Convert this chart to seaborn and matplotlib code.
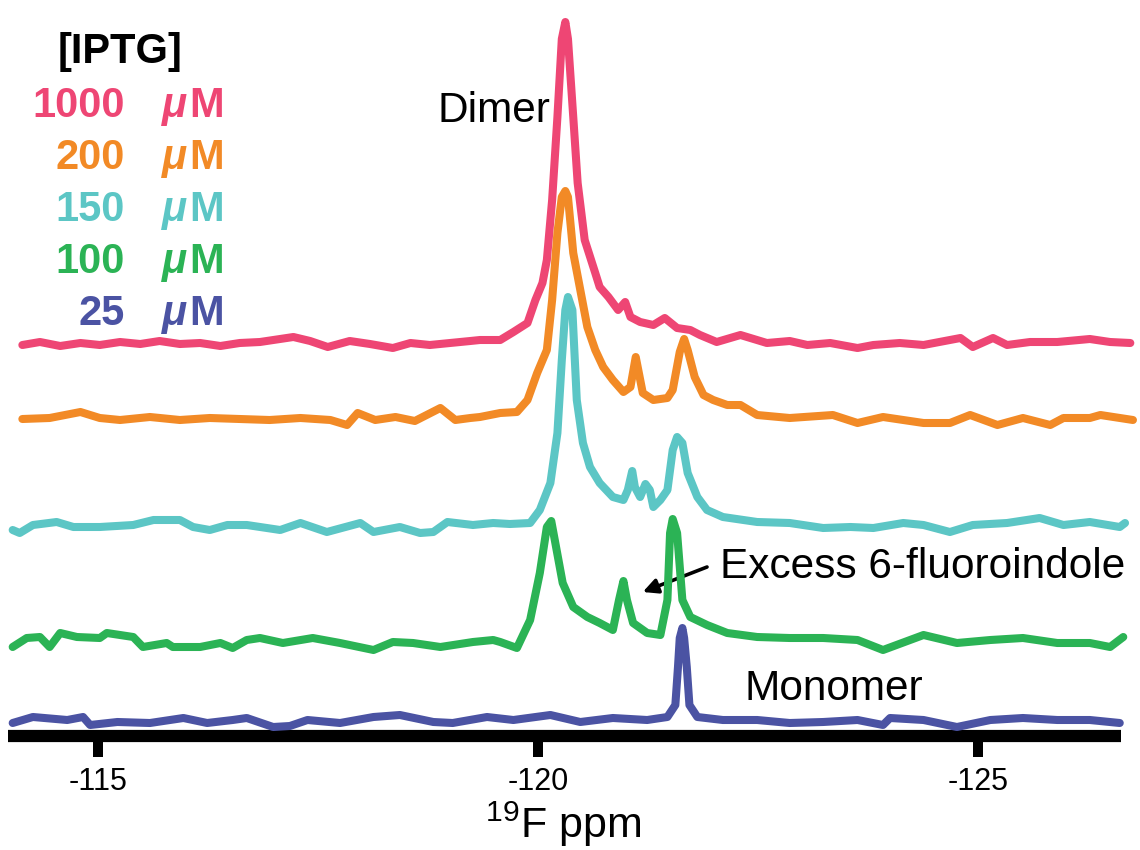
import numpy as np
import pandas as pd
import matplotlib
matplotlib.use("Agg")
import matplotlib.pyplot as plt
import seaborn as sns

# ---------------- data ----------------
conc_labels = ["1000", "200", "150", "100", "25"]
colors = ["#EE4674", "#F28A26", "#5CC6C5", "#2BB355", "#4B53A3"]

pink_ppm = [-114.14, -114.34, -114.57, -114.80, -115.02, -115.25, -115.48, -115.70, -115.93, -116.16,
            -116.39, -116.61, -116.84, -117.22, -117.41, -117.61, -117.86, -118.09, -118.35, -118.55,
            -118.77, -119.00, -119.23, -119.34, -119.57, -119.72, -119.88, -119.97, -120.05, -120.10,
            -120.16, -120.22, -120.27, -120.31, -120.34, -120.40, -120.45, -120.53, -120.65, -120.70,
            -120.80, -120.91, -120.99, -121.05, -121.16, -121.31, -121.44, -121.58, -121.73, -121.84,
            -122.03, -122.30, -122.60, -122.86, -123.06, -123.32, -123.63, -123.81, -124.11, -124.38,
            -124.80, -124.94, -125.17, -125.33, -125.59, -125.90, -126.27, -126.50, -126.73]
pink_int = [-1, 2, -2, 1, -1, 2, 0, 3, 0, 1,
            -2, 1, 2, 7, 3, -3, 3, 0, -4, 1,
            -1, 1, 3, 4, 4, 12, 21, 44, 61, 84,
            144, 227, 305, 322, 305, 227, 161, 104, 71, 57,
            47, 34, 42, 27, 22, 19, 26, 16, 14, 9,
            2, 9, 1, 3, -1, 1, -4, -1, 1, -1,
            6, -3, 6, -1, 2, 2, 5, 2, 1]

orange_ppm = [-114.14, -114.45, -114.80, -115.02, -115.25, -115.59, -115.93, -116.27, -116.61, -116.95,
              -117.30, -117.64, -117.83, -117.95, -118.15, -118.38, -118.60, -118.89, -119.06, -119.23,
              -119.34, -119.57, -119.76, -119.88, -119.99, -120.10, -120.16, -120.22, -120.27, -120.31,
              -120.34, -120.40, -120.48, -120.56, -120.65, -120.74, -120.85, -120.97, -121.05, -121.11,
              -121.19, -121.31, -121.47, -121.53, -121.61, -121.66, -121.70, -121.78, -121.88, -121.99,
              -122.15, -122.30, -122.49, -122.86, -123.35, -123.63, -123.92, -124.38, -124.68, -124.91,
              -125.22, -125.51, -125.82, -125.97, -126.27, -126.39, -126.76]
orange_int = [0, 1, 7, 1, -1, 2, -1, 1, 0, -1,
              1, -1, -6, 6, -1, 2, -2, 11, -1, 1,
              2, 6, 7, 19, 46, 69, 119, 186, 222, 228,
              222, 166, 129, 92, 69, 52, 39, 27, 32, 62,
              26, 19, 21, 29, 67, 80, 69, 42, 24, 19,
              14, 14, 4, 1, 4, -4, 2, -4, -4, 4,
              -6, 1, -6, 1, 1, 4, -1]

teal_ppm = [-114.03, -114.11, -114.26, -114.53, -114.72, -115.02, -115.40, -115.63, -115.93, -116.08,
            -116.27, -116.47, -116.69, -117.07, -117.30, -117.60, -117.98, -118.13, -118.43, -118.66,
            -118.81, -118.97, -119.26, -119.49, -119.68, -119.91, -120.02, -120.14, -120.22, -120.27,
            -120.31, -120.34, -120.39, -120.44, -120.51, -120.59, -120.70, -120.85, -120.97, -121.02,
            -121.07, -121.10, -121.16, -121.22, -121.27, -121.31, -121.39, -121.47, -121.53, -121.58,
            -121.64, -121.70, -121.81, -121.92, -122.10, -122.49, -122.86, -123.24, -123.55, -123.81,
            -124.15, -124.38, -124.68, -124.94, -125.33, -125.70, -125.97, -126.27, -126.61, -126.67]
teal_int = [-4, -7, 1, 4, -1, -1, 1, 6, 6, -1,
            -4, 1, 1, -4, 3, -6, 3, -6, -1, -7,
            -6, 4, 1, 3, 2, 3, 16, 43, 93, 166,
            216, 229, 216, 126, 83, 59, 43, 29, 26, 36,
            55, 39, 29, 42, 36, 19, 26, 36, 76, 89,
            83, 53, 29, 16, 9, 4, 3, -2, -1, -2,
            3, 1, -6, 1, 3, 8, 1, 4, -1, 3]

green_ppm = [-114.03, -114.19, -114.34, -114.45, -114.57, -114.76, -115.02, -115.10, -115.40, -115.51,
             -115.78, -115.85, -116.16, -116.39, -116.53, -116.69, -116.84, -117.10, -117.44, -117.75,
             -118.13, -118.35, -118.58, -118.89, -119.26, -119.49, -119.57, -119.76, -119.91, -120.02,
             -120.10, -120.15, -120.19, -120.28, -120.40, -120.56, -120.70, -120.85, -120.92, -120.97,
             -121.01, -121.08, -121.24, -121.39, -121.47, -121.50, -121.53, -121.58, -121.64, -121.73,
             -121.92, -122.15, -122.49, -122.86, -123.24, -123.63, -123.92, -124.38, -124.76, -125.14,
             -125.51, -125.90, -126.27, -126.50, -126.65]
green_int = [-4, 5, 6, -4, 10, 6, 5, 10, 6, -4,
             0, -4, -4, 0, -5, 3, 5, 0, 5, 0,
             -7, 1, 0, -4, 1, 3, 1, -5, 23, 70,
             116, 122, 103, 60, 36, 26, 20, 13, 43, 62,
             43, 20, 10, 8, 43, 110, 124, 110, 43, 26,
             18, 10, 6, 5, 5, 3, -7, 8, 0, 3,
             5, 0, 0, -4, 6]

blue_ppm = [-114.03, -114.26, -114.65, -114.83, -114.91, -115.22, -115.59, -115.97, -116.24, -116.53,
            -116.69, -116.99, -117.18, -117.38, -117.75, -118.13, -118.43, -118.81, -119.03, -119.42,
            -119.72, -120.14, -120.48, -120.85, -121.24, -121.47, -121.56, -121.59, -121.61, -121.64,
            -121.66, -121.69, -121.72, -121.81, -122.10, -122.49, -122.86, -123.24, -123.63, -123.92,
            -124.00, -124.38, -124.76, -125.14, -125.51, -125.90, -126.27, -126.61]
blue_int = [-3, 3, 0, 3, -5, -2, -3, 2, -3, 0,
            2, -7, -6, 0, -3, 3, 5, -2, -3, 3,
            0, 5, -2, 2, 0, 3, 15, 53, 82, 92,
            82, 53, 15, 3, 0, 0, -3, -2, 0, -5,
            2, 0, -7, 0, 2, 0, 0, -3]

tick_values = [-115, -120, -125]
tick_labels = ["-115", "-120", "-125"]

# ---------------- layout ----------------
W, H = 1140, 850
offsets = [392, 317, 210, 93, 16]

sns.set_theme(style="white")
plt.rcParams["font.family"] = ["Liberation Sans", "DejaVu Sans"]
plt.rcParams["mathtext.default"] = "regular"
plt.rcParams["text.color"] = "black"
plt.rcParams["axes.labelcolor"] = "black"
plt.rcParams["xtick.color"] = "black"

fig = plt.figure(figsize=(W / 100, H / 100), dpi=100)
ax = fig.add_axes([0, 114 / H, 1, 736 / H])

traces = [(pink_ppm, pink_int), (orange_ppm, orange_int), (teal_ppm, teal_int),
          (green_ppm, green_int), (blue_ppm, blue_int)]
for i, ((xp, yi), col, off) in enumerate(zip(traces, colors, offsets)):
    df = pd.DataFrame({"ppm": xp, "intensity": np.array(yi, dtype=float) + off})
    sns.lineplot(data=df, x="ppm", y="intensity", ax=ax, color=col, lw=5.8,
                 estimator=None, sort=False, zorder=2 + i)

ax.set_xlim(-113.886, -126.84)
ax.set_ylim(0, 736)
ax.set_facecolor("none")
for s in ["top", "left", "right"]:
    ax.spines[s].set_visible(False)
ax.spines["bottom"].set_linewidth(8.8)
ax.spines["bottom"].set_color("black")
ax.spines["bottom"].set_capstyle("butt")
ax.spines["bottom"].set_bounds(-113.98, -126.62)
ax.set_yticks([])
ax.set_xticks(tick_values)
ax.set_xticklabels(tick_labels, fontsize=22, color="black")
ax.tick_params(axis="x", direction="out", length=15, width=7.2, color="black", pad=7,
               bottom=True, labelcolor="black")
ax.set_xlabel("")
ax.set_ylabel("")

# annotations
ax.annotate("", xy=(-121.19, 144), xytext=(-121.92, 169),
            arrowprops=dict(arrowstyle="-|>", lw=2.6, color="black", mutation_scale=22,
                            shrinkA=0, shrinkB=0))


def fpos(x, y):
    return x / W, 1 - y / H


fig.text(*fpos(563, 838), "$^{19}$F ppm", fontsize=31, ha="center", va="baseline", color="black")
fig.text(*fpos(438, 122), "Dimer", fontsize=30.5, ha="left", va="baseline", color="black")
fig.text(*fpos(720, 578), "Excess 6-fluoroindole", fontsize=30.5, ha="left", va="baseline", color="black")
fig.text(*fpos(745, 700), "Monomer", fontsize=30.5, ha="left", va="baseline", color="black")

fig.text(*fpos(120, 63), "[IPTG]", fontsize=30, fontweight="bold", ha="center", va="baseline", color="black")
row_base = [117, 169, 221, 273, 325]
for lab, col, yb in zip(conc_labels, colors, row_base):
    fig.text(*fpos(125, yb), lab, fontsize=30, fontweight="bold", ha="right", va="baseline", color=col)
    fig.text(*fpos(162, yb), "\u03bc", fontsize=30, fontweight="bold", fontstyle="italic",
             ha="left", va="baseline", color=col)
    fig.text(*fpos(189, yb), "M", fontsize=30, fontweight="bold", ha="left", va="baseline", color=col)

fig.savefig("out.png", dpi=100, facecolor="white")
